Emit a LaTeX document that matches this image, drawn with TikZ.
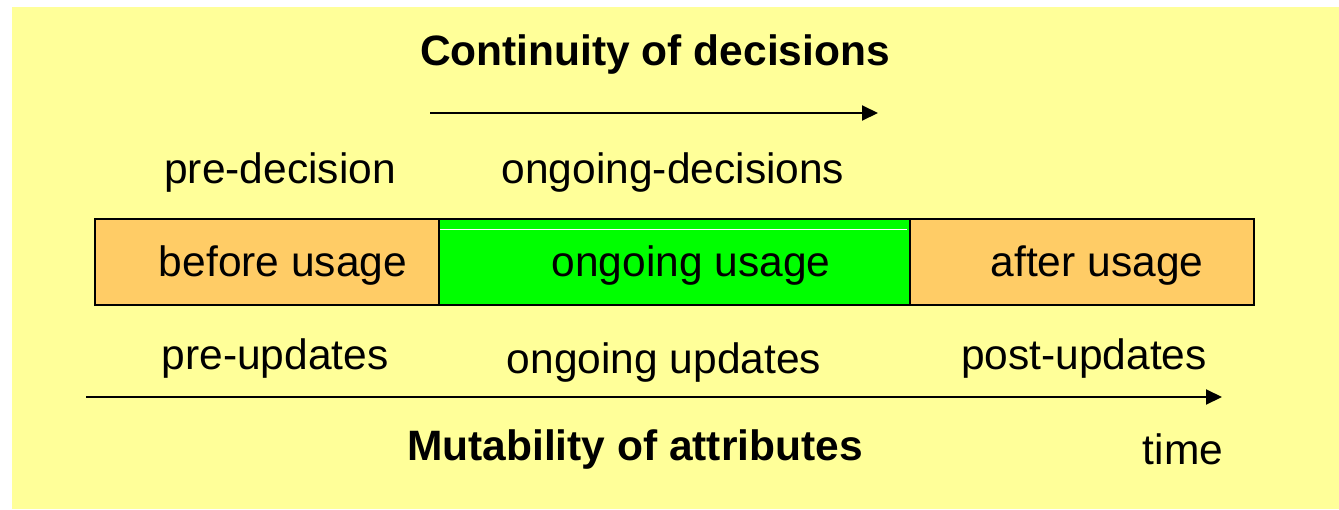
\documentclass[tikz,border=0pt]{standalone}
\usepackage{fontspec}
\setmainfont{Liberation Sans}
\usetikzlibrary{arrows.meta}
\definecolor{bgyellow}{HTML}{FFFF99}
\definecolor{phase}{HTML}{FFCC66}
\definecolor{active}{HTML}{00FF00}
\begin{document}
\begin{tikzpicture}[x=1pt,y=-1pt,
  every node/.style={inner sep=0pt},
  lbl/.style={font=\fontsize{42.5}{50}\selectfont, anchor=base},
  heading/.style={font=\fontsize{42.5}{50}\selectfont\bfseries, anchor=base},
  phasebox/.style={draw=black, line width=2pt, minimum height=86pt, anchor=north west},
  flow/.style={line width=2pt, -{Triangle[length=16pt,width=15pt]}}]
\useasboundingbox (0,0) rectangle (1339,509);
\fill[bgyellow] (12,7) rectangle (1339,509);

% usage phases
\node[phasebox, fill=phase, minimum width=344.5pt] (before) at (93.5,218) {};
\node[phasebox, fill=phase, minimum width=344pt] (after) at (909,218) {};
\node[phasebox, fill=active, minimum width=471pt] (ongoing) at (438,218) {};
\draw[white, line width=0.6pt] (440,229) -- (907,229);

\node[lbl] (bu) at (283,276) {before usage};
\node[lbl] (ou) at (691,276) {ongoing usage};
\node[lbl] (au) at (1097,276) {after usage};

% decisions
\node[heading] (cont) at (655,65) {Continuity of decisions};
\coordinate (cs) at (430,113);
\coordinate (ce) at (878,113);
\draw[flow] (cs) -- (ce);
\node[lbl] (pred) at (280,183) {pre-decision};
\node[lbl] (ongd) at (673,183) {ongoing-decisions};

% updates
\node[lbl] (preu) at (275,369) {pre-updates};
\node[lbl] (ongu) at (664,373) {ongoing updates};
\node[lbl] (postu) at (1084,369) {post-updates};
\coordinate (ts) at (86,397);
\coordinate (te) at (1222,397);
\draw[flow] (ts) -- (te);
\node[heading] (mut) at (635,460) {Mutability of attributes};
\node[lbl] (time) at (1183,464) {time};
\end{tikzpicture}
\end{document}
